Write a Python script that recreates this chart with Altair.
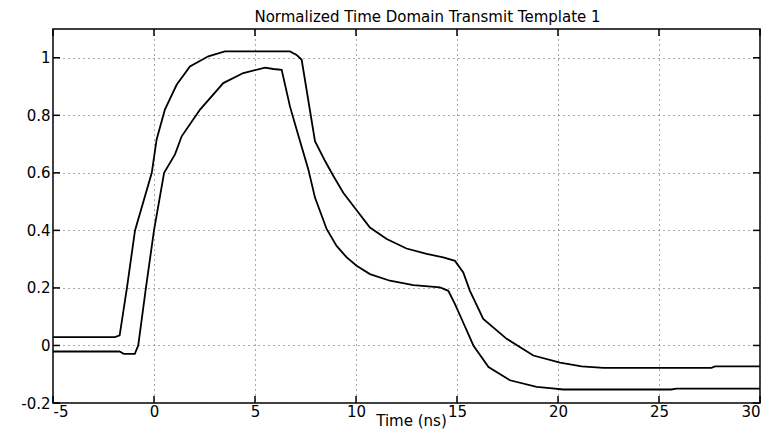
import altair as alt
import pandas as pd

# Upper (outer) template curve: time (ns), normalized amplitude
upper_t = [-5, -1.93, -1.7, -1.34, -0.94, -0.11, 0.13, 0.54, 1.12, 1.78, 2.69, 3.51,
           6.73, 7.06, 7.31, 7.97, 8.47, 8.88, 9.37, 9.87, 10.69, 11.52, 12.5, 13.5,
           14.32, 14.9, 15.31, 15.64, 16.3, 17.46, 18.78, 20.1, 21.17, 22.25, 27.6,
           27.77, 30]
upper_v = [0.029, 0.029, 0.035, 0.2, 0.4, 0.6, 0.716, 0.82, 0.906, 0.97, 1.005, 1.022,
           1.022, 1.01, 0.993, 0.71, 0.641, 0.589, 0.531, 0.485, 0.41, 0.37, 0.337, 0.318,
           0.306, 0.294, 0.254, 0.19, 0.092, 0.023, -0.035, -0.06, -0.073, -0.078, -0.078,
           -0.073, -0.073]

# Lower (inner) template curve
lower_t = [-5, -1.7, -1.5, -0.95, -0.78, -0.4, 0.0, 0.5, 1.04, 1.37, 2.28, 3.43, 4.42,
           5.5, 5.91, 6.32, 6.73, 7.06, 7.64, 7.97, 8.55, 9.04, 9.54, 10.03, 10.69,
           11.68, 12.84, 14.16, 14.57, 14.9, 15.23, 15.81, 16.56, 17.62, 18.94, 19.6,
           20.26, 25.6, 25.87, 30]
lower_v = [-0.021, -0.021, -0.029, -0.029, 0.0, 0.2, 0.4, 0.6, 0.664, 0.727, 0.82, 0.912,
           0.947, 0.966, 0.961, 0.958, 0.831, 0.751, 0.612, 0.514, 0.404, 0.346, 0.306,
           0.277, 0.248, 0.225, 0.21, 0.202, 0.19, 0.144, 0.092, 0.0, -0.075, -0.121,
           -0.144, -0.148, -0.153, -0.153, -0.15, -0.15]

x_ticks = [-5, 0, 5, 10, 15, 20, 25, 30]
y_ticks = [-0.2, 0, 0.2, 0.4, 0.6, 0.8, 1.0]

FONT = "DejaVu Sans"
FS = 15
W, H = 707, 374
TL = 7  # inward tick length

df = pd.concat([
    pd.DataFrame({"t": upper_t, "v": upper_v, "series": "upper", "i": range(len(upper_t))}),
    pd.DataFrame({"t": lower_t, "v": lower_v, "series": "lower", "i": range(len(lower_t))}),
])
xt = pd.DataFrame({"t": x_ticks})
yt = pd.DataFrame({"v": y_ticks})

xscale = alt.Scale(domain=[-5, 30], nice=False, zero=False)
yscale = alt.Scale(domain=[-0.2, 1.1], nice=False, zero=False)

lines = alt.Chart(df).mark_line(color="black", strokeWidth=1.8, clip=True).encode(
    x=alt.X("t:Q", scale=xscale, axis=alt.Axis(
        values=x_ticks, grid=True, gridDash=[1, 4], gridColor="#555555", gridWidth=1,
        ticks=False, domain=False, labelPadding=1, labelExpr="'' + datum.value",
        title="Time (ns)", titleX=358, titleY=22, titleBaseline="alphabetic",
        titleAnchor="middle")),
    y=alt.Y("v:Q", scale=yscale, axis=alt.Axis(
        values=y_ticks, grid=True, gridDash=[1, 4], gridColor="#555555", gridWidth=1,
        ticks=False, domain=False, labelPadding=3,
        labelExpr="'' + (round(datum.value * 10) / 10)", title=None)),
    detail="series:N",
    order="i:Q",
)

tick_bottom = alt.Chart(xt).mark_rule(color="black", strokeWidth=1.5).encode(
    x="t:Q", y=alt.value(H), y2=alt.value(H - TL))
tick_top = alt.Chart(xt).mark_rule(color="black", strokeWidth=1.5).encode(
    x="t:Q", y=alt.value(0), y2=alt.value(TL))
tick_left = alt.Chart(yt).mark_rule(color="black", strokeWidth=1.5).encode(
    y="v:Q", x=alt.value(0), x2=alt.value(TL))
tick_right = alt.Chart(yt).mark_rule(color="black", strokeWidth=1.5).encode(
    y="v:Q", x=alt.value(W), x2=alt.value(W - TL))

chart = alt.layer(lines, tick_bottom, tick_top, tick_left, tick_right).properties(
    width=W, height=H,
    autosize="none",
    padding={"left": 45, "top": 21, "right": 10, "bottom": 28},
    title=alt.TitleParams("Normalized Time Domain Transmit Template 1", fontSize=FS,
                          fontWeight="normal", font=FONT, color="black",
                          anchor="middle", dx=21, offset=3),
).configure_view(stroke="black", strokeWidth=1.5).configure_axis(
    labelFont=FONT, labelFontSize=FS, labelColor="black",
    titleFont=FONT, titleFontSize=FS, titleFontWeight="normal", titleColor="black",
)

chart.save("out.html", embed_options={"renderer": "svg", "actions": False})
